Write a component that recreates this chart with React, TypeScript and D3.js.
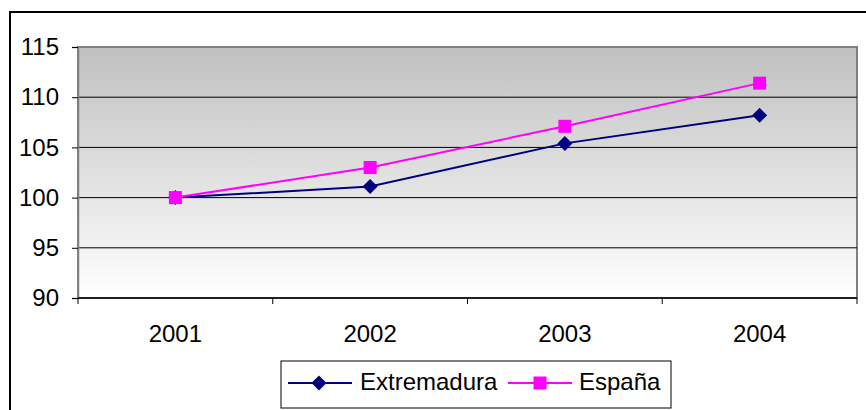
import React, { useEffect, useRef } from 'react'
import * as d3 from 'd3'

const years = ['2001', '2002', '2003', '2004']
const extremadura = [100, 101.1, 105.4, 108.2]
const espana = [100, 103.0, 107.1, 111.4]
const yTicks = [90, 95, 100, 105, 110, 115]

const App = () => {
  const svgRef = useRef<SVGSVGElement>(null)

  useEffect(() => {
    const svg = d3.select(svgRef.current)
    svg.selectAll('*').remove()

    const left = 78, right = 857, top = 47, bottom = 298
    const font = '"Liberation Sans", Arial, sans-serif'

    const x = d3.scaleBand<string>().domain(years).range([left, right])
    const y = d3.scaleLinear().domain([90, 115]).range([bottom, top])

    const defs = svg.append('defs')
    const grad = defs.append('linearGradient').attr('id', 'bg').attr('x1', 0).attr('y1', 0).attr('x2', 0).attr('y2', 1)
    grad.append('stop').attr('offset', '0%').attr('stop-color', '#c0c0c0')
    grad.append('stop').attr('offset', '100%').attr('stop-color', '#ffffff')

    // outer frame
    svg.append('rect')
      .attr('x', 10).attr('y', 12).attr('width', 880).attr('height', 420)
      .attr('fill', '#fff').attr('stroke', '#000').attr('stroke-width', 2)

    // plot area
    svg.append('rect')
      .attr('x', left).attr('y', top).attr('width', right - left).attr('height', bottom - top)
      .attr('fill', 'url(#bg)').attr('stroke', '#808080').attr('stroke-width', 2)

    // gridlines
    svg.append('g').selectAll('line')
      .data(yTicks.filter(t => t > 90 && t < 115))
      .join('line')
      .attr('x1', left).attr('x2', right)
      .attr('y1', d => y(d)).attr('y2', d => y(d))
      .attr('stroke', '#000').attr('stroke-width', 1)

    // y axis
    const yAxis = svg.append('g').attr('transform', `translate(${left},0)`)
      .call(d3.axisLeft(y).tickValues(yTicks).tickSize(6).tickPadding(13))
    yAxis.select('.domain').attr('stroke', '#808080').attr('stroke-width', 1.5)
    yAxis.selectAll('.tick line').attr('stroke', '#000')
    yAxis.selectAll('text').attr('font-family', font).attr('font-size', 24).attr('fill', '#000')

    // x axis
    svg.append('line').attr('x1', left).attr('x2', right).attr('y1', bottom).attr('y2', bottom)
      .attr('stroke', '#000').attr('stroke-width', 1.5)
    const edges = years.map(yr => x(yr) as number).concat([right])
    svg.append('g').selectAll('line').data(edges).join('line')
      .attr('x1', d => d).attr('x2', d => d).attr('y1', bottom).attr('y2', bottom + 6)
      .attr('stroke', '#000')

    const cx = (yr: string) => (x(yr) as number) + x.bandwidth() / 2
    svg.append('g').selectAll('text').data(years).join('text')
      .attr('x', d => cx(d)).attr('y', 342).attr('text-anchor', 'middle')
      .attr('font-family', font).attr('font-size', 24).text(d => d)

    const line = d3.line<number>().x((_, i) => cx(years[i])).y(d => y(d))

    const diamond = (g: any, px: number, py: number, r: number) =>
      g.append('path')
        .attr('d', `M${px},${py - r}L${px + r},${py}L${px},${py + r}L${px - r},${py}Z`)
        .attr('fill', '#000080')

    svg.append('path').datum(extremadura).attr('d', line)
      .attr('fill', 'none').attr('stroke', '#000080').attr('stroke-width', 2)
    extremadura.forEach((v, i) => diamond(svg, cx(years[i]), y(v), 7.5))

    svg.append('path').datum(espana).attr('d', line)
      .attr('fill', 'none').attr('stroke', '#ff00ff').attr('stroke-width', 2)
    svg.append('g').selectAll('rect').data(espana).join('rect')
      .attr('x', (_, i) => cx(years[i]) - 6.5).attr('y', d => y(d) - 6.5)
      .attr('width', 13).attr('height', 13).attr('fill', '#ff00ff')

    // legend
    const lg = svg.append('g')
    lg.append('rect').attr('x', 281).attr('y', 361).attr('width', 390).attr('height', 47)
      .attr('fill', '#fff').attr('stroke', '#000').attr('stroke-width', 1)
    lg.append('line').attr('x1', 288).attr('x2', 352).attr('y1', 383).attr('y2', 383)
      .attr('stroke', '#000080').attr('stroke-width', 2)
    diamond(lg, 319, 383, 7.5)
    lg.append('text').attr('x', 360).attr('y', 390).text('Extremadura')
      .attr('font-family', font).attr('font-size', 24)
    lg.append('line').attr('x1', 508).attr('x2', 572).attr('y1', 383).attr('y2', 383)
      .attr('stroke', '#ff00ff').attr('stroke-width', 2)
    lg.append('rect').attr('x', 533.5).attr('y', 376.5).attr('width', 13).attr('height', 13).attr('fill', '#ff00ff')
    lg.append('text').attr('x', 579).attr('y', 390).text('España')
      .attr('font-family', font).attr('font-size', 24)
  })

  return (
    <svg ref={svgRef} width={866} height={410}
      style={{ position: 'absolute', left: 0, top: 0, display: 'block', background: '#fff' }} />
  )
}

export default App
